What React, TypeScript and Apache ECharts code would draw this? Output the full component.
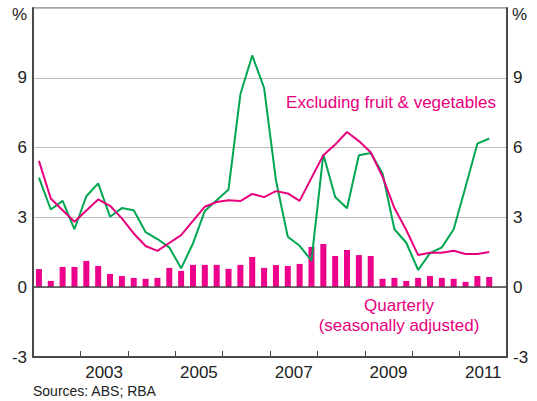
import React, { useEffect, useRef } from "react";
import * as echarts from "echarts";

const years = ["2002", "2003", "2004", "2005", "2006", "2007", "2008", "2009", "2010", "2011"];
const quarters = years.flatMap((y) => ["Q1", "Q2", "Q3", "Q4"].map((q) => `${y} ${q}`));

const quarterly = [
  0.78, 0.27, 0.87, 0.87, 1.13, 0.91, 0.57, 0.48, 0.4, 0.36,
  0.4, 0.83, 0.7, 0.96, 0.96, 0.96, 0.79, 0.96, 1.3, 0.83,
  0.95, 0.91, 1.0, 1.73, 1.86, 1.34, 1.6, 1.38, 1.34, 0.36,
  0.4, 0.27, 0.4, 0.48, 0.4, 0.36, 0.23, 0.48, 0.44,
];

const headline = [
  4.71, 3.34, 3.71, 2.49, 3.91, 4.46, 3.03, 3.4, 3.31, 2.37,
  2.07, 1.71, 0.81, 1.88, 3.28, 3.74, 4.2, 8.29, 9.96, 8.57,
  4.6, 2.17, 1.78, 1.14, 5.71, 3.88, 3.39, 5.67, 5.77, 4.89,
  2.49, 1.91, 0.74, 1.46, 1.71, 2.49, 4.31, 6.17, 6.39,
];

const exFruitVeg = [
  5.43, 3.81, 3.31, 2.81, 3.3, 3.77, 3.5, 2.96, 2.31, 1.77,
  1.56, 1.9, 2.24, 2.85, 3.46, 3.66, 3.74, 3.7, 4.01, 3.87,
  4.13, 4.03, 3.71, 4.7, 5.67, 6.13, 6.67, 6.28, 5.8, 4.74,
  3.4, 2.46, 1.38, 1.48, 1.48, 1.57, 1.43, 1.43, 1.51,
];

const yTicks = [-3, 0, 3, 6, 9];

const PINK = "#E6007E";
const GREEN = "#00A651";
const AXIS = "#4a4a4a";
const FONT = "'Liberation Sans', Arial, sans-serif";

export default function App() {
  const ref = useRef<HTMLDivElement>(null);
  useEffect(() => {
    if (!ref.current) return;
    const chart = echarts.init(ref.current, null, { renderer: "svg" });
    const yLabel = (v: number) => (yTicks.includes(v) ? String(v) : "");
    chart.setOption({
      animation: false,
      textStyle: { fontFamily: FONT },
      grid: {
        left: 33,
        right: 30,
        top: 8,
        bottom: 44,
        show: true,
        borderColor: AXIS,
        borderWidth: 1,
        containLabel: false,
      },
      xAxis: [
        {
          type: "category",
          data: quarters,
          show: false,
          position: "bottom",
          boundaryGap: true,
          axisLine: { onZero: false },
        },
        {
          type: "category",
          data: years,
          position: "bottom",
          boundaryGap: true,
          axisLine: { show: true, onZero: false, lineStyle: { color: AXIS, width: 2 } },
          axisTick: { show: true, inside: true, length: 6, interval: 0, lineStyle: { color: AXIS, width: 1 } },
          axisLabel: {
            interval: 0,
            margin: 7,
            fontSize: 17,
            color: "#222",
            fontFamily: FONT,
            formatter: (v: string) => (Number(v) % 2 === 1 ? v : ""),
          },
          splitLine: { show: false },
        },
      ],
      yAxis: [
        {
          type: "value",
          position: "left",
          min: -3,
          max: 12,
          interval: 3,
          axisLine: { show: true, onZero: false, lineStyle: { color: AXIS, width: 2 } },
          axisTick: { show: false },
          axisLabel: { fontSize: 17, color: "#222", margin: 6, fontFamily: FONT, formatter: yLabel },
          splitLine: { show: true, lineStyle: { color: "#bdbdbd", width: 1 } },
        },
        {
          type: "value",
          position: "right",
          min: -3,
          max: 12,
          interval: 3,
          axisLine: { show: true, onZero: false, lineStyle: { color: AXIS, width: 2 } },
          axisTick: { show: false },
          axisLabel: { fontSize: 17, color: "#222", margin: 6, fontFamily: FONT, formatter: yLabel },
          splitLine: { show: false },
        },
      ],
      series: [
        {
          type: "bar",
          name: "Quarterly (seasonally adjusted)",
          xAxisIndex: 0,
          yAxisIndex: 0,
          data: quarterly,
          barWidth: 6,
          itemStyle: { color: "#EC008C" },
          markLine: {
            silent: true,
            symbol: "none",
            label: { show: false },
            lineStyle: { color: AXIS, width: 1.5, type: "solid" },
            data: [{ yAxis: 0 }],
          },
        },
        {
          type: "line",
          name: "Headline",
          xAxisIndex: 0,
          yAxisIndex: 0,
          data: headline,
          symbol: "none",
          lineStyle: { color: GREEN, width: 2 },
          itemStyle: { color: GREEN },
        },
        {
          type: "line",
          name: "Excluding fruit & vegetables",
          xAxisIndex: 0,
          yAxisIndex: 0,
          data: exFruitVeg,
          symbol: "none",
          lineStyle: { color: PINK, width: 2 },
          itemStyle: { color: PINK },
        },
      ],
      graphic: [
        { type: "text", left: 12, top: 6, style: { text: "%", fontSize: 17, fill: "#222", fontFamily: FONT } },
        { type: "text", left: 512, top: 6, style: { text: "%", fontSize: 17, fill: "#222", fontFamily: FONT } },
        {
          type: "text",
          x: 391,
          y: 102,
          style: {
            text: "Excluding fruit & vegetables",
            fontSize: 17,
            fill: PINK,
            fontFamily: FONT,
            align: "center",
            verticalAlign: "middle",
          },
        },
        {
          type: "text",
          x: 399,
          y: 315,
          style: {
            text: "Quarterly\n(seasonally adjusted)",
            fontSize: 17,
            lineHeight: 20,
            fill: PINK,
            fontFamily: FONT,
            align: "center",
            verticalAlign: "middle",
          },
        },
        {
          type: "text",
          left: 33,
          top: 384,
          style: { text: "Sources: ABS; RBA", fontSize: 14, fill: "#222", fontFamily: FONT },
        },
      ],
    });
    return () => chart.dispose();
  }, []);
  return (
    <div
      ref={ref}
      style={{ position: "fixed", left: 0, top: 0, width: 537, height: 401, background: "#fff" }}
    />
  );
}
